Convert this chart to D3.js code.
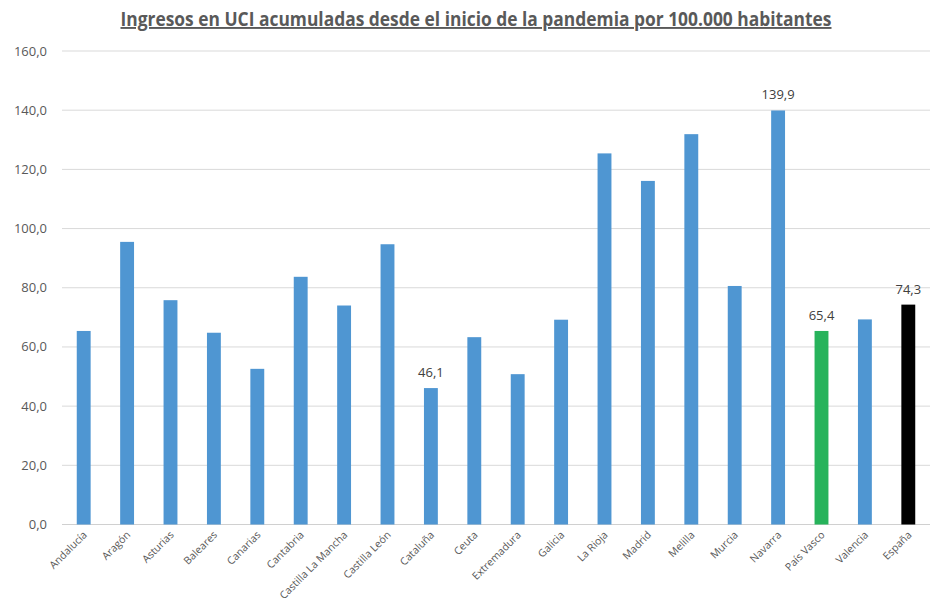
<!DOCTYPE html>
<html><head><meta charset="utf-8">
<script src="https://cdn.jsdelivr.net/npm/d3@7/dist/d3.min.js"></script>
<style>body{margin:0;background:#fff}</style>
</head><body>
<svg id="c" width="933" height="604"></svg>
<script>
const categories = ["Andalucía","Aragón","Asturias","Baleares","Canarias","Cantabria","Castilla La Mancha","Castilla León","Cataluña","Ceuta","Extremadura","Galicia","La Rioja","Madrid","Melilla","Murcia","Navarra","País Vasco","Valencia","España"];
const values = [65.4,95.5,75.8,64.8,52.6,83.7,74.0,94.7,46.1,63.3,50.8,69.2,125.4,116.1,131.9,80.6,139.9,65.4,69.3,74.3];
const labelled = ["Cataluña","Navarra","País Vasco","España"];
const yTicks = [0,20,40,60,80,100,120,140,160];
const title = "Ingresos en UCI  acumuladas desde el inicio de la pandemia por 100.000 habitantes";

(function(){
const svg = d3.select("#c");
const pl = 62, pr = 930, pt = 51, pb = 524.5;
const x = d3.scaleBand().domain(categories).range([pl, pr]).paddingInner(0.68).paddingOuter(0.34);
const y = d3.scaleLinear().domain([0,160]).range([pb, pt]);
const fmt = v => d3.format(".1f")(v).replace(".", ",");
const font = "'Open Sans', sans-serif";

svg.append("g").selectAll("line").data(yTicks).join("line")
  .attr("x1", pl).attr("x2", pr)
  .attr("y1", d => y(d)).attr("y2", d => y(d))
  .attr("stroke", d => d === 0 ? "#d0d0d0" : "#d9d9d9").attr("stroke-width", 1);

svg.append("g").selectAll("text").data(yTicks).join("text")
  .attr("x", 47).attr("y", d => y(d) + 4.5)
  .attr("text-anchor", "end").attr("fill", "#595959")
  .style("font-family", font).style("font-size", "13px")
  .text(d => fmt(d));

const color = c => c === "País Vasco" ? "#27b35b" : c === "España" ? "#000000" : "#4f96d2";
svg.append("g").selectAll("rect").data(categories).join("rect")
  .attr("x", c => x(c)).attr("width", x.bandwidth())
  .attr("y", (c,i) => y(values[i])).attr("height", (c,i) => pb - y(values[i]))
  .attr("fill", c => color(c));

svg.append("g").selectAll("text").data(categories.filter(c => labelled.includes(c))).join("text")
  .attr("x", c => x(c) + x.bandwidth()/2)
  .attr("y", c => y(values[categories.indexOf(c)]) - 11)
  .attr("text-anchor", "middle").attr("fill", "#404040")
  .style("font-family", font).style("font-size", "13px")
  .text(c => fmt(values[categories.indexOf(c)]));

svg.append("g").selectAll("text").data(categories).join("text")
  .attr("transform", c => `translate(${x(c) + x.bandwidth()/2 + 4},${pb + 11}) rotate(-45)`)
  .attr("text-anchor", "end").attr("fill", "#595959")
  .style("font-family", font).style("font-size", "10.5px")
  .text(c => c);

svg.append("text").attr("x", 476).attr("y", 26).attr("text-anchor", "middle")
  .attr("fill", "#595959").style("font-family", "'Liberation Sans Narrow', 'Open Sans', sans-serif")
  .style("font-size", "19px").style("font-weight", "bold")
  .style("text-decoration", "underline")
  .attr("textLength", 711).attr("lengthAdjust", "spacingAndGlyphs")
  .text(title);
})();
</script>
</body></html>
